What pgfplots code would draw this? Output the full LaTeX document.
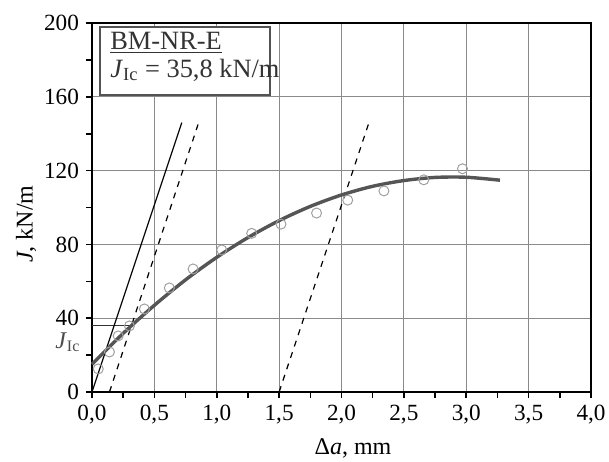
\documentclass[border=0pt]{standalone}
\usepackage{fontspec}
\setmainfont{Liberation Serif}
\usepackage{pgfplots}
\pgfplotsset{compat=1.18}
\definecolor{curvegray}{HTML}{555555}
\definecolor{gridgray}{HTML}{8A8A8A}
\definecolor{markgray}{HTML}{A0A0A0}
\begin{document}
\begin{tikzpicture}
\useasboundingbox (-46pt,-34.5pt) rectangle (258.5pt,196pt);
\begin{axis}[
  at={(0,0)}, anchor=south west,
  scale only axis, width=249.5pt, height=184.5pt,
  xmin=0, xmax=4, ymin=0, ymax=200,
  xtick={0,0.5,1,1.5,2,2.5,3,3.5,4},
  ytick={0,40,80,120,160,200},
  minor x tick num=1, minor y tick num=1,
  tick align=outside, tick pos=left,
  major tick length=3pt, minor tick length=3pt,
  every tick/.style={black, line width=0.8pt},
  grid=major,
  major grid style={gridgray, line width=0.6pt},
  axis line style={line width=1pt},
  clip=false,
  /pgf/number format/assume math mode=true,
  tick label style={font=\fontsize{11.6}{13}\selectfont},
  x tick label style={/pgf/number format/.cd, fixed, fixed zerofill, precision=1, use comma},
  y tick label style={/pgf/number format/.cd, fixed, precision=0},
  xlabel={Δ\textit{a}, mm},
  ylabel={\textit{J}, kN/m},
  label style={font=\fontsize{12}{14}\selectfont},
  xlabel style={at={(axis description cs:0.523,0)}, anchor=center, inner sep=0pt, yshift=-28pt},
  ylabel style={at={(axis description cs:-0.132,0.455)}, anchor=center},
]
% legend box
\draw[gridgray!60!black, line width=0.6pt, fill=white] (axis cs:0.064,197.8) rectangle (axis cs:1.427,161);
\node[anchor=base west, inner sep=0, text=black!80, font=\fontsize{13.2}{15}\selectfont] at (axis cs:0.144,185.4) {\underline{BM-NR-E}};
\node[anchor=base west, inner sep=0, text=black!80, font=\fontsize{13.2}{15}\selectfont] at (axis cs:0.144,170.7) {\textit{J}\textsubscript{Ic} = 35,8 kN/m};
% J_Ic label
\node[anchor=base west, inner sep=0, text=black!70, font=\fontsize{12}{14}\selectfont, xshift=-18.5pt] at (axis cs:0,23.8) {\textit{J}\textsubscript{Ic}};
% J_Ic horizontal line
\addplot[black!80, line width=0.5pt] coordinates {(0,35.8) (0.32,35.8)};
% blunting line and offsets
\addplot[black, line width=0.6pt] coordinates {(0,0) (0.72,146)};
\addplot[black, line width=0.6pt, dashed] coordinates {(0.14,0) (0.85,145)};
\addplot[black, line width=0.6pt, dashed] coordinates {(1.5,0) (2.22,146)};
% fitted curve
\addplot[curvegray, line width=1.7pt, smooth] coordinates {
(0,15) (0.25,31.8) (0.5,47.0) (0.75,60.8) (1.0,73.0) (1.25,83.7) (1.5,92.9)
(1.75,100.6) (2.0,106.8) (2.25,111.5) (2.5,114.6) (2.75,116.3) (3.0,116.4) (3.27,114.8)};
% data points
\addplot[only marks, mark=o, mark size=2.5pt, markgray, mark options={line width=0.5pt}] coordinates {
(0.05,12.5) (0.14,21.7) (0.21,30.4) (0.30,35.8) (0.42,45) (0.62,56.4) (0.81,66.7)
(1.04,77) (1.28,86) (1.515,91) (1.80,97) (2.05,104) (2.34,109) (2.66,115) (2.97,121)};
\end{axis}
\end{tikzpicture}
\end{document}
